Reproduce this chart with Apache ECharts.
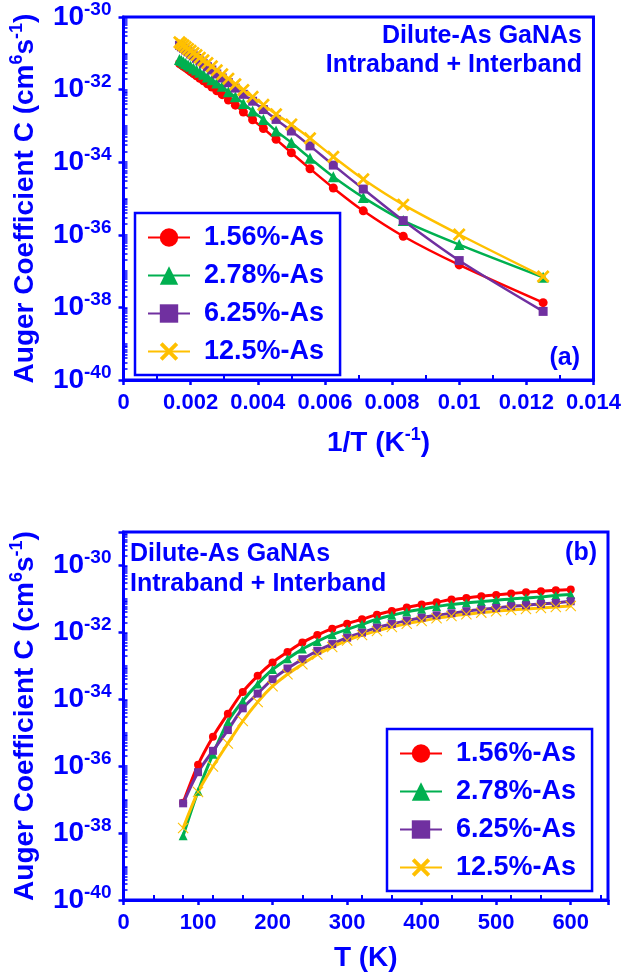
<!DOCTYPE html>
<html><head><meta charset="utf-8">
<script src="https://cdn.jsdelivr.net/npm/echarts@6/dist/echarts.min.js"></script>
<style>html,body{margin:0;padding:0;background:#fff}#c{width:624px;height:976px}</style>
</head><body><div id="c"></div>
<script>
// ---------------- DATA ----------------
const seriesNames = ['1.56%-As', '2.78%-As', '6.25%-As', '12.5%-As'];
// temperatures (K) of the computed points
const temperatures = [80, 100, 120, 140, 160, 180, 200, 220, 240, 260, 280, 300, 320, 340, 360, 380, 400, 420, 440, 460, 480, 500, 520, 540, 560, 580, 600];
// 1/T (K^-1) positions used in panel (a)
const inverseT = [0.0125, 0.01, 0.008333, 0.007143, 0.00625, 0.005556, 0.005, 0.004545, 0.004167, 0.003846, 0.003571, 0.003333, 0.003125, 0.002941, 0.002778, 0.002632, 0.0025, 0.002381, 0.002273, 0.002174, 0.002083, 0.002, 0.001923, 0.001852, 0.001786, 0.001724, 0.001667];

// Panel (a): Auger coefficient C (cm^6 s^-1) vs 1/T
const panelA_As156 = [1.35e-38, 1.48e-37, 9.12e-37, 4.57e-36, 1.95e-35, 6.61e-35, 1.82e-34, 4.27e-34, 8.51e-34, 1.48e-33, 2.40e-33, 3.72e-33, 5.13e-33, 7.24e-33, 9.33e-33, 1.17e-32, 1.45e-32, 1.74e-32, 2.04e-32, 2.40e-32, 2.75e-32, 3.16e-32, 3.55e-32, 3.98e-32, 4.37e-32, 4.79e-32, 5.25e-32];
const panelA_As278 = [6.76e-38, 5.37e-37, 2.46e-36, 1.07e-35, 3.98e-35, 1.29e-34, 3.47e-34, 7.24e-34, 1.51e-33, 2.57e-33, 4.17e-33, 6.31e-33, 8.71e-33, 1.23e-32, 1.51e-32, 1.86e-32, 2.24e-32, 2.63e-32, 3.02e-32, 3.47e-32, 3.89e-32, 4.37e-32, 4.79e-32, 5.25e-32, 5.75e-32, 6.31e-32, 6.76e-32];
const panelA_As625 = [7.76e-39, 1.95e-37, 2.46e-36, 1.82e-35, 8.32e-35, 2.82e-34, 7.24e-34, 1.51e-33, 2.82e-33, 4.79e-33, 7.41e-33, 1.10e-32, 1.55e-32, 2.09e-32, 2.69e-32, 3.47e-32, 4.27e-32, 5.13e-32, 6.17e-32, 7.24e-32, 8.51e-32, 9.55e-32, 1.10e-31, 1.23e-31, 1.38e-31, 1.51e-31, 1.66e-31];
const panelA_As125 = [7.08e-38, 1.02e-36, 6.76e-36, 3.39e-35, 1.41e-34, 4.57e-34, 1.10e-33, 2.09e-33, 3.80e-33, 6.31e-33, 9.77e-33, 1.41e-32, 2.00e-32, 2.63e-32, 3.39e-32, 4.37e-32, 5.37e-32, 6.46e-32, 7.59e-32, 8.91e-32, 1.02e-31, 1.17e-31, 1.32e-31, 1.48e-31, 1.66e-31, 1.82e-31, 2.00e-31];

// Panel (b): Auger coefficient C (cm^6 s^-1) vs T
const panelB_As156 = [8.13e-38, 1.10e-36, 7.59e-36, 3.72e-35, 1.66e-34, 5.01e-34, 1.26e-33, 2.57e-33, 5.01e-33, 8.32e-33, 1.29e-32, 1.82e-32, 2.46e-32, 3.39e-32, 4.37e-32, 5.50e-32, 6.76e-32, 7.94e-32, 9.55e-32, 1.07e-31, 1.20e-31, 1.32e-31, 1.45e-31, 1.58e-31, 1.70e-31, 1.82e-31, 1.91e-31];
const panelB_As278 = [8.32e-39, 1.78e-37, 2.29e-36, 2.14e-35, 8.91e-35, 2.88e-34, 7.76e-34, 1.62e-33, 3.16e-33, 5.37e-33, 8.51e-33, 1.23e-32, 1.74e-32, 2.46e-32, 3.24e-32, 4.07e-32, 4.90e-32, 5.89e-32, 6.76e-32, 7.59e-32, 8.32e-32, 9.12e-32, 1.00e-31, 1.07e-31, 1.15e-31, 1.26e-31, 1.35e-31];
const panelB_As625 = [7.76e-38, 6.61e-37, 2.88e-36, 1.20e-35, 5.37e-35, 1.48e-34, 3.98e-34, 8.32e-34, 1.58e-33, 2.82e-33, 4.47e-33, 6.92e-33, 9.77e-33, 1.38e-32, 1.78e-32, 2.24e-32, 2.75e-32, 3.24e-32, 3.72e-32, 4.27e-32, 4.79e-32, 5.37e-32, 6.03e-32, 6.46e-32, 7.08e-32, 7.59e-32, 8.51e-32];
const panelB_As125 = [1.41e-38, 1.70e-37, 9.77e-37, 4.79e-36, 2.24e-35, 8.32e-35, 2.46e-34, 5.62e-34, 1.12e-33, 2.19e-33, 3.63e-33, 5.75e-33, 8.32e-33, 1.10e-32, 1.45e-32, 1.82e-32, 2.19e-32, 2.63e-32, 3.09e-32, 3.47e-32, 3.89e-32, 4.27e-32, 4.68e-32, 5.01e-32, 5.37e-32, 5.75e-32, 6.17e-32];

const panelTitle1 = 'Dilute-As GaNAs';
const panelTitle2 = 'Intraband + Interband';

// ---------------- STYLE ----------------
const BLUE = '#0000FF';
const FONT = '"Liberation Sans", Arial, Helvetica, sans-serif';
const COLORS = ['#FF0000', '#00B050', '#7030A0', '#FFC000'];
const X_BOLD = 'path://M0,1.5 L1.5,0 L5,3.5 L8.5,0 L10,1.5 L6.5,5 L10,8.5 L8.5,10 L5,6.5 L1.5,10 L0,8.5 L3.5,5 Z';
const X_THIN = 'path://M0,0.7 L0.7,0 L5,4.3 L9.3,0 L10,0.7 L5.7,5 L10,9.3 L9.3,10 L5,5.7 L0.7,10 L0,9.3 L4.3,5 Z';

const txt = (size) => ({ fontSize: size, fontWeight: 'bold', color: BLUE, fontFamily: FONT });
const richSup = {
  n: Object.assign(txt(28), { lineHeight: 34 }),
  s: Object.assign(txt(18), { lineHeight: 20, verticalAlign: 'top' })
};

// tick decoration positions (exponent space for log10 axes)
function logMinor(lo, hi) {
  const out = [];
  for (let n = lo; n < hi; n++) for (let k = 1; k <= 9; k++) out.push(n + Math.log10(k));
  out.push(hi);
  return out;
}

function yMain(grid, max, gap) {
  return {
    gridIndex: grid, type: 'value', position: 'left', min: -40, max: max, interval: 2,
    axisLine: { show: true, lineStyle: { color: BLUE, width: 3 } },
    axisTick: { show: true, inside: false, length: 5, lineStyle: { color: BLUE, width: 2.5 } },
    splitLine: { show: false },
    axisLabel: {
      margin: 12,
      formatter: (v) => (v <= -30 && v % 2 === 0) ? '{n|10}{s|' + v + '}' : '',
      rich: { n: Object.assign(txt(28), { lineHeight: 34 }), s: Object.assign(txt(19), { lineHeight: 20, verticalAlign: 'top' }) }
    },
    name: '{n|Auger Coefficient C (cm}{s|6}{n|s}{s|-1}{n|)}',
    nameLocation: 'middle', nameGap: gap, nameRotate: 90,
    nameTextStyle: Object.assign(txt(28), { lineHeight: 34, rich: richSup })
  };
}
function yMinor(grid, max) {
  return {
    gridIndex: grid, type: 'value', position: 'left', min: -40, max: max, interval: 1,
    axisLine: { show: false }, splitLine: { show: false }, axisLabel: { show: false },
    axisTick: { show: true, inside: true, length: 4, customValues: logMinor(-40, max), lineStyle: { color: BLUE, width: 1.5 } }
  };
}

const xMinorA = [0.001, 0.003, 0.005, 0.007, 0.009, 0.011, 0.013];
const xMinorB = [40, 80, 120, 160, 240, 280, 320, 360, 440, 480, 520, 560, 640];

const xAxis = [
  {
    gridIndex: 0, type: 'value', position: 'bottom', min: 0, max: 0.014, interval: 0.002,
    axisLine: { show: true, lineStyle: { color: BLUE, width: 3 } },
    axisTick: { show: true, inside: false, length: 5, lineStyle: { color: BLUE, width: 2.5 } },
    splitLine: { show: false },
    axisLabel: Object.assign(txt(22), { margin: 12 }),
    name: '{n|1/T (K}{s|-1}{n|)}', nameLocation: 'middle', nameGap: 46,
    nameTextStyle: Object.assign(txt(28), { lineHeight: 34, padding: [0, 0, 0, 40], rich: richSup })
  },
  {
    gridIndex: 0, type: 'value', position: 'bottom', min: 0, max: 0.014, interval: 0.001,
    axisLine: { show: false }, splitLine: { show: false }, axisLabel: { show: false },
    axisTick: { show: true, inside: true, length: 5, customValues: xMinorA, lineStyle: { color: BLUE, width: 2 } }
  },
  {
    gridIndex: 1, type: 'value', position: 'bottom', min: 0, max: 650, interval: 100,
    axisLine: { show: true, lineStyle: { color: BLUE, width: 3 } },
    axisTick: { show: true, inside: false, length: 5, lineStyle: { color: BLUE, width: 2.5 } },
    splitLine: { show: false },
    axisLabel: Object.assign(txt(22), { margin: 12, formatter: (v) => (v % 100 === 0 ? String(v) : '') }),
    name: 'T (K)', nameLocation: 'middle', nameGap: 41,
    nameTextStyle: Object.assign(txt(28), { lineHeight: 34 })
  },
  {
    gridIndex: 1, type: 'value', position: 'bottom', min: 0, max: 650, interval: 40,
    axisLine: { show: false }, splitLine: { show: false }, axisLabel: { show: false },
    axisTick: { show: true, inside: true, length: 5, customValues: xMinorB, lineStyle: { color: BLUE, width: 2 } }
  }
];

const yAxis = [yMain(0, -30, 75), yMinor(0, -30), yMain(1, -29, 71), yMinor(1, -29)];

function makeSeries(name, xs, cs, xi, yi, symbol, size, color, lw) {
  return {
    type: 'line', name: name, xAxisIndex: xi, yAxisIndex: yi,
    data: xs.map((x, i) => [x, Math.log10(cs[i])]),
    symbol: symbol, symbolSize: size, showSymbol: true, smooth: 0.3,
    lineStyle: { color: color, width: lw }, itemStyle: { color: color, opacity: 1 },
    emphasis: { disabled: true }, animation: false
  };
}

const panelA = [panelA_As156, panelA_As278, panelA_As625, panelA_As125];
const panelB = [panelB_As156, panelB_As278, panelB_As625, panelB_As125];
const symA = [['circle', 9], ['triangle', 11], ['rect', 9], [X_BOLD, 13]];
const symB = [['circle', 8], ['triangle', 9], ['rect', 8], [X_THIN, 11]];

const series = [];
for (let i = 0; i < 4; i++) series.push(makeSeries(seriesNames[i], inverseT, panelA[i], 0, 0, symA[i][0], symA[i][1], COLORS[i], 2.5));
for (let i = 0; i < 4; i++) series.push(makeSeries(seriesNames[i], temperatures, panelB[i], 2, 2, symB[i][0], symB[i][1], COLORS[i], 3));

function makeLegend(left, top) {
  return {
    orient: 'vertical', left: left, top: top, data: seriesNames, selectedMode: false,
    itemWidth: 42, itemHeight: 23, itemGap: 11, padding: [11, 16, 10, 12],
    borderColor: BLUE, borderWidth: 2.5, backgroundColor: '#ffffff',
    textStyle: Object.assign(txt(27), { lineHeight: 26, padding: [0, 0, 0, 9] })
  };
}

function label(text, x, y, align) {
  return {
    type: 'text', x: x, y: y, z: 100,
    style: { text: text, fill: BLUE, font: 'bold 25px ' + FONT, align: align, verticalAlign: 'middle', textAlign: align, textVerticalAlign: 'middle' }
  };
}

const option = {
  animation: false,
  backgroundColor: '#ffffff',
  grid: [
    { left: 123, top: 15, width: 471, height: 365, show: true, borderColor: BLUE, borderWidth: 3, backgroundColor: 'transparent' },
    { left: 114, top: 532, width: 494, height: 371, show: true, borderColor: BLUE, borderWidth: 3, backgroundColor: 'transparent' }
  ],
  xAxis: xAxis,
  yAxis: yAxis,
  legend: [makeLegend(135, 213), makeLegend(387, 729)],
  series: series,
  graphic: [
    label(panelTitle1, 582, 36, 'right'),
    label(panelTitle2, 582, 65, 'right'),
    label('(a)', 580, 358, 'right'),
    label(panelTitle1, 130, 554, 'left'),
    label(panelTitle2, 130, 584, 'left'),
    label('(b)', 597, 553, 'right')
  ]
};

const chart = echarts.init(document.getElementById('c'), null, { renderer: 'canvas' });
chart.setOption(option);
</script>
</body></html>
